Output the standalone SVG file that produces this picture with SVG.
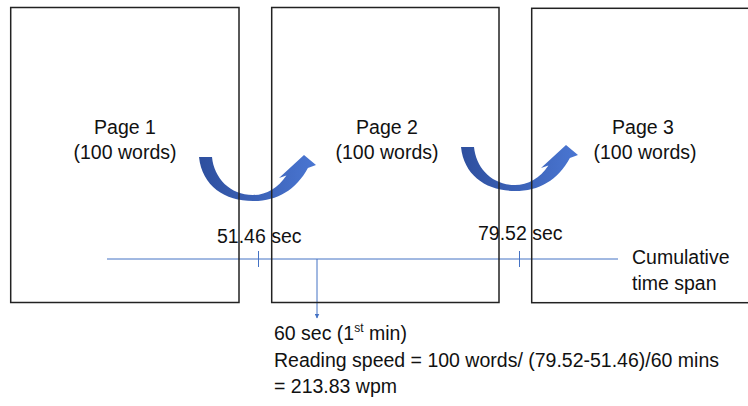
<svg xmlns="http://www.w3.org/2000/svg" width="748" height="406" viewBox="0 0 748 406">
<defs>
<linearGradient id="cg" x1="0" y1="0" x2="1" y2="0">
<stop offset="0" stop-color="#2E4F9E"/>
<stop offset="1" stop-color="#4A76D2"/>
</linearGradient>
<marker id="ah" viewBox="0 0 10 10" refX="9" refY="5" markerWidth="5" markerHeight="5" orient="auto">
<path d="M0,0 L10,5 L0,10 z" fill="#4472C4"/>
</marker>
<path id="curve" d="M199,157 L212,157 C214,178 230,195 253,195 C266,195 278,188 286.4,175.4 L279,178 L304,155 L316,165 L307.9,167.9 C296,190 277,201 253,201 C225,201 202,186 199,157 Z"/>
</defs>
<style>
text{font-family:"Liberation Sans",Arial,sans-serif;font-size:19.5px;fill:#111}
.page{fill:none;stroke:#222;stroke-width:1.5}
.tl{stroke:#4472C4;stroke-width:1;fill:none}
.mid{text-anchor:middle}
</style>
<rect width="748" height="406" fill="#fff"/>
<g id="connectors">
<use href="#curve" fill="url(#cg)"/>
<use href="#curve" fill="url(#cg)" transform="translate(262,-10)"/>
<line class="tl" x1="107" y1="259" x2="618" y2="259"/>
<line class="tl" x1="258.5" y1="251" x2="258.5" y2="267"/>
<line class="tl" x1="519.5" y1="251" x2="519.5" y2="267"/>
<line class="tl" x1="317" y1="259" x2="317" y2="318" stroke-width="1.3" marker-end="url(#ah)"/>
</g>
<g id="page1">
<rect class="page" x="10.7" y="7.5" width="228.3" height="295"/>
<text class="mid" x="125" y="134">Page 1</text>
<text class="mid" x="125" y="159">(100 words)</text>
</g>
<g id="page2">
<rect class="page" x="271.7" y="7.5" width="227.3" height="295"/>
<text class="mid" x="387" y="134">Page 2</text>
<text class="mid" x="387" y="159">(100 words)</text>
</g>
<g id="page3">
<rect class="page" x="531.7" y="8.3" width="240" height="294.4"/>
<text class="mid" x="643" y="134">Page 3</text>
<text class="mid" x="645" y="159">(100 words)</text>
</g>
<g id="labels">
<text x="217" y="243">51.46 sec</text>
<text x="478" y="240">79.52 sec</text>
<text x="632" y="264">Cumulative</text>
<text x="632" y="290">time span</text>
<text x="274" y="340">60 sec (1<tspan font-size="12" dy="-8">st</tspan><tspan dy="8"> min)</tspan></text>
<text x="274" y="367">Reading speed = 100 words/ (79.52-51.46)/60 mins</text>
<text x="274" y="393">= 213.83 wpm</text>
</g>
</svg>
